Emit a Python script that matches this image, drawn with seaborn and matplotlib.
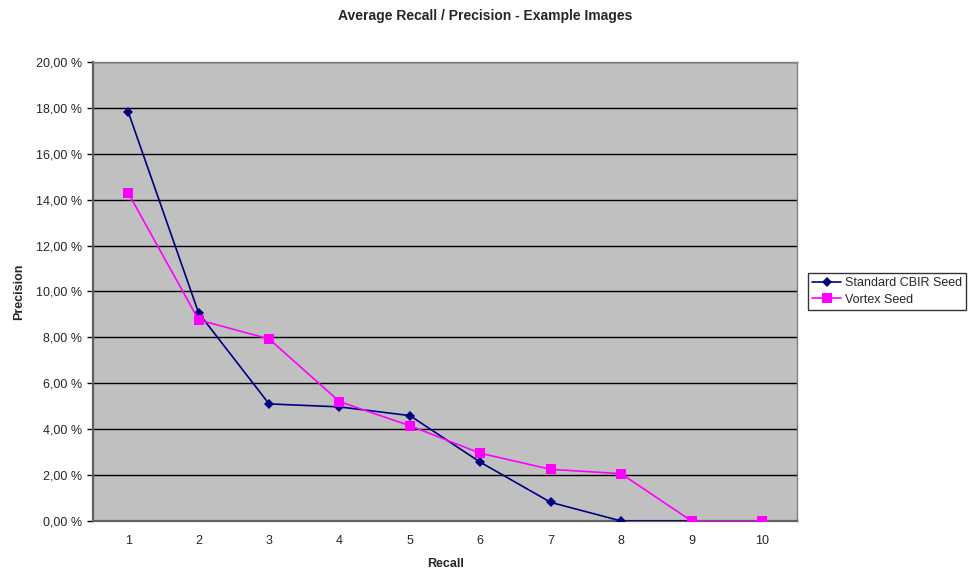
import matplotlib
matplotlib.use("Agg")
import matplotlib.pyplot as plt
import seaborn as sns
import pandas as pd
from matplotlib.ticker import FixedLocator, FuncFormatter

recall = [1, 2, 3, 4, 5, 6, 7, 8, 9, 10]
standard_cbir = [17.82, 9.06, 5.10, 4.97, 4.59, 2.56, 0.81, 0.0, 0.0, 0.0]
vortex = [14.29, 8.76, 7.93, 5.20, 4.15, 2.95, 2.25, 2.06, 0.0, 0.0]
series_names = ["Standard CBIR Seed", "Vortex Seed"]

df = pd.DataFrame({
    "Recall": recall * 2,
    "Precision": standard_cbir + vortex,
    "Series": [series_names[0]] * len(recall) + [series_names[1]] * len(recall),
})

sns.set_style("white")
plt.rcParams["font.family"] = ["Liberation Sans", "DejaVu Sans"]

fig = plt.figure(figsize=(9.71, 5.73), dpi=100)
ax = fig.add_axes([0.0958, 0.0908, 0.7252, 0.8012])
ax.set_facecolor("#C0C0C0")

palette = {series_names[0]: "#000080", series_names[1]: "#FF00FF"}
markers = {series_names[0]: "D", series_names[1]: "s"}
sns.lineplot(data=df, x="Recall", y="Precision", hue="Series", style="Series",
             palette=palette, markers=markers, dashes=False, markersize=6.5,
             linewidth=1.2, markeredgewidth=0, ax=ax, zorder=3)
for line in ax.get_lines():
    if line.get_marker() == "D":
        line.set_markersize(5.5)

ax.set_xlim(0.5, 10.5)
ax.set_ylim(0, 20)
ax.set_yticks(range(0, 21, 2))
ax.yaxis.set_major_formatter(FuncFormatter(lambda v, p: f"{v:.2f}".replace(".", ",") + " %"))
ax.yaxis.grid(True, color="black", linewidth=1.0)
ax.set_axisbelow(True)
ax.set_xticks(recall)
ax.xaxis.set_minor_locator(FixedLocator([i + 0.5 for i in range(0, 11)]))
ax.tick_params(axis="x", which="major", length=0, labelsize=9, pad=10)
ax.tick_params(axis="x", which="minor", length=4, width=1, color="black", direction="out")
ax.tick_params(axis="y", which="major", length=4, width=1, color="black", direction="out",
               labelsize=9, left=True, pad=4)

for side in ["top", "right"]:
    ax.spines[side].set_color("#808080")
    ax.spines[side].set_linewidth(1)
ax.spines["left"].set_color("#606060")
ax.spines["bottom"].set_color("#606060")
ax.spines["left"].set_linewidth(1.6)
ax.spines["bottom"].set_linewidth(1.6)

ax.set_xlabel("Recall", fontsize=9, fontweight="bold", labelpad=8)
ax.set_ylabel("Precision", fontsize=9, fontweight="bold", labelpad=8)
fig.suptitle("Average Recall / Precision - Example Images", fontsize=10, fontweight="bold", y=0.985)

handles, labels = ax.get_legend_handles_labels()
leg = ax.legend(handles, labels, loc="center left", bbox_to_anchor=(1.015, 0.5),
                frameon=True, fancybox=False, fontsize=9, borderpad=0.35,
                handlelength=2.3, labelspacing=0.35, handletextpad=0.3, borderaxespad=0)
leg.get_frame().set_edgecolor("black")
leg.get_frame().set_linewidth(1)
leg.get_frame().set_facecolor("white")

fig.savefig("out.png", dpi=100)
